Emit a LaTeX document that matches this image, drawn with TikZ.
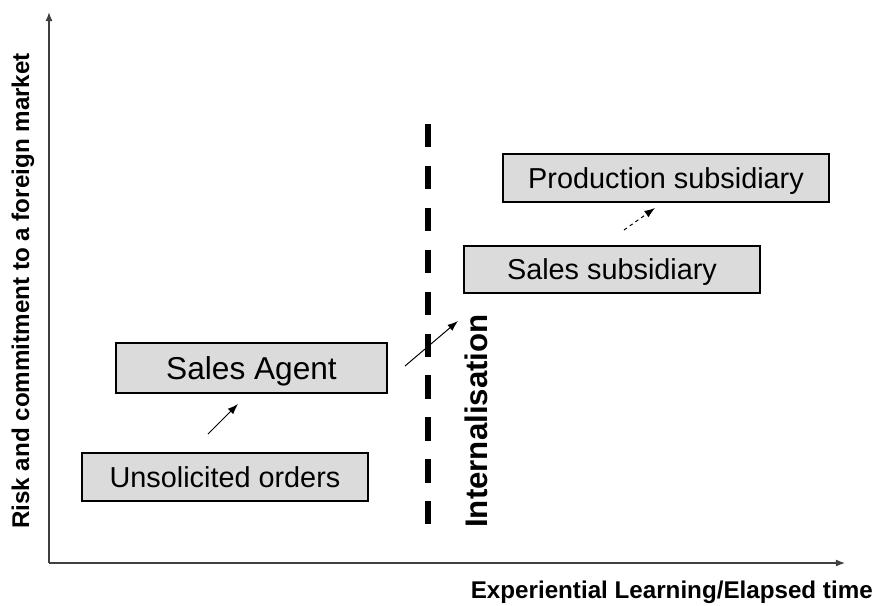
\documentclass[tikz,border=0pt]{standalone}
\usepackage{fontspec}
\setmainfont{Liberation Sans}
\usepackage{tikz}
\usetikzlibrary{arrows.meta, positioning, calc}

\begin{document}
\begin{tikzpicture}[
    x=0.025cm, y=-0.025cm,
    stage/.style={rectangle, draw, line width=1pt, fill=black!14, inner sep=0pt,
        text height=14.7pt, text depth=0pt, font=\fontsize{20.5}{24}\selectfont},
    axis/.style={draw=black!75, line width=0.85pt, -{Latex[length=6.5pt, width=5pt]}},
    move/.style={line width=0.7pt, -{Latex[length=7.5pt, width=5.5pt]}},
    axislabel/.style={font=\bfseries\fontsize{17.2}{20}\selectfont, inner sep=0pt}
]
    \useasboundingbox (0,0) rectangle (877,606);

    % axes
    \coordinate (origin) at (49,563);
    \coordinate (ytop) at (49,12);
    \coordinate (xend) at (845,563);
    \draw[axis] (origin) -- (ytop);
    \draw[axis] (origin) -- (xend);
    \node[axislabel, rotate=90] (ylab) at (23,291) {Risk and commitment to a foreign market};
    \node[axislabel, anchor=base east] (xlab) at (873,598) {Experiential Learning/Elapsed time};

    % stages
    \node[stage, minimum width=7.15cm, minimum height=1.2cm] (unsol) at (225,477) {Unsolicited orders};
    \node[stage, minimum width=6.775cm, minimum height=1.25cm, text height=16.1pt, font=\fontsize{22.5}{26}\selectfont] (agent) at (251.5,368) {Sales Agent};
    \node[stage, minimum width=7.4cm, minimum height=1.175cm] (salessub) at (612,269.5) {Sales subsidiary};
    \node[stage, minimum width=8.15cm, minimum height=1.2cm] (prodsub) at (666,178) {Production subsidiary};

    % internalisation border
    \coordinate (ltop) at (428,124);
    \coordinate (lbot) at (428,528);
    \draw[line width=4.2pt, dash pattern=on 16.6pt off 13.2pt] (ltop) -- (lbot);
    \node[rotate=90, inner sep=0pt, font=\bfseries\fontsize{22.2}{26}\selectfont] (intern) at (476,421) {Internalisation};

    % moves between stages
    \coordinate (m1s) at (208,434);
    \coordinate (m1e) at (238,404);
    \coordinate (m2s) at (405,366);
    \coordinate (m2e) at (458,321);
    \coordinate (m3s) at (624,230);
    \coordinate (m3e) at (655,208);
    \draw[move] (m1s) -- (m1e);
    \draw[move] (m2s) -- (m2e);
    \draw[move, dash pattern=on 2.5pt off 2.5pt] (m3s) -- (m3e);
\end{tikzpicture}
\end{document}
